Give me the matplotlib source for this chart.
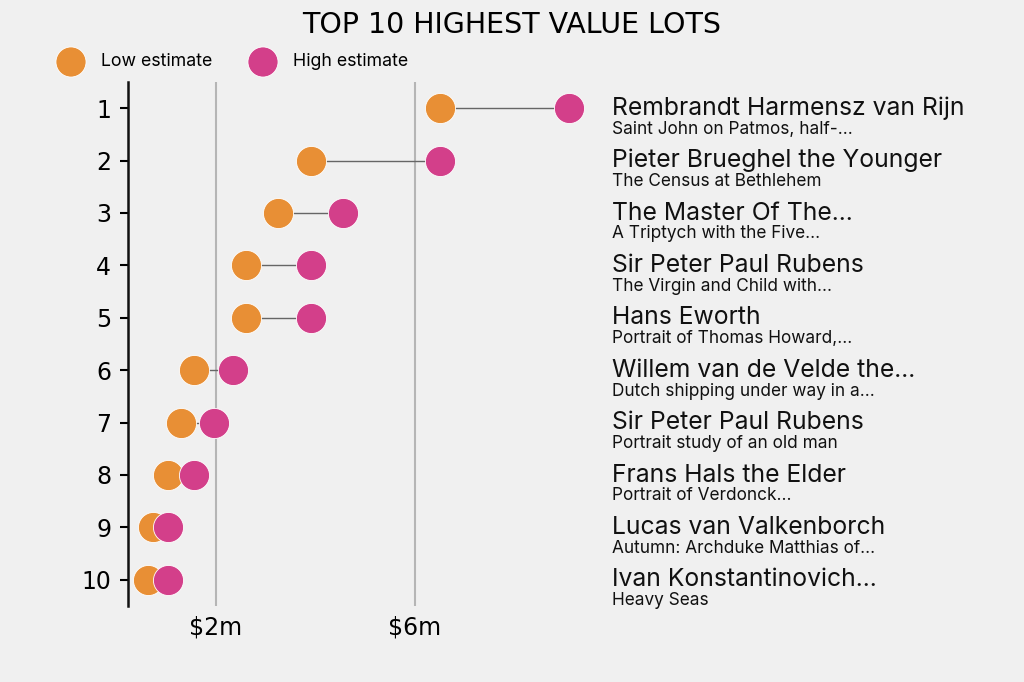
import matplotlib.pyplot as plt

ranks = [1, 2, 3, 4, 5, 6, 7, 8, 9, 10]
artists = ['Rembrandt Harmensz van Rijn', 'Pieter Brueghel the Younger',
           'The Master Of The...', 'Sir Peter Paul Rubens', 'Hans Eworth',
           'Willem van de Velde the...', 'Sir Peter Paul Rubens',
           'Frans Hals the Elder', 'Lucas van Valkenborch',
           'Ivan Konstantinovich...']
works = ['Saint John on Patmos, half-...', 'The Census at Bethlehem',
         'A Triptych with the Five...', 'The Virgin and Child with...',
         'Portrait of Thomas Howard,...', 'Dutch shipping under way in a...',
         'Portrait study of an old man', 'Portrait of Verdonck...',
         'Autumn: Archduke Matthias of...', 'Heavy Seas']
low_est = [6.5, 3.9, 3.25, 2.6, 2.6, 1.56, 1.3, 1.04, 0.73, 0.63]
high_est = [9.1, 6.5, 4.55, 3.9, 3.9, 2.34, 1.95, 1.56, 1.04, 1.04]
xticks = [2, 6]
xtick_labels = ['$2m', '$6m']

orange = '#E88F35'
pink = '#D33F8A'
bg = '#F0F0F0'
label_font = 'Inter'

fig = plt.figure(figsize=(10.24, 6.82), dpi=100, facecolor=bg)
ax = fig.add_axes([128 / 1024, 1 - 606 / 682, (600 - 128) / 1024, (606 - 82) / 682])
ax.set_facecolor(bg)

for r, lo, hi in zip(ranks, low_est, high_est):
    ax.plot([lo, hi], [r, r], color='#666666', lw=1, zorder=2)
ax.scatter(low_est, ranks, s=470, color=orange, edgecolor='white', lw=0.6, zorder=3)
ax.scatter(high_est, ranks, s=470, color=pink, edgecolor='white', lw=0.6, zorder=4)

ax.set_xlim(0.23, 9.72)
ax.set_ylim(10.5, 0.5)
ax.set_yticks(ranks)
ax.set_yticklabels([str(r) for r in ranks], fontsize=17)
ax.set_xticks(xticks)
ax.set_xticklabels(xtick_labels, fontsize=17)
ax.tick_params(axis='x', length=0, pad=7)
ax.tick_params(axis='y', length=6, width=1.5, pad=6)
ax.grid(axis='x', color='#B5B5B5', lw=1.5, zorder=1)
for s in ['top', 'right', 'bottom']:
    ax.spines[s].set_visible(False)
ax.spines['left'].set_linewidth(1.8)
ax.spines['left'].set_color('#111111')

# artist and title of each lot, right of the plot
trans = ax.get_yaxis_transform()
for r, a, w in zip(ranks, artists, works):
    ax.text(1.026, r, a, transform=trans, fontsize=17.8, family=label_font,
            va='center', ha='left', color='#111111', clip_on=False)
    ax.text(1.026, r + 0.4, w, transform=trans, fontsize=12.4, family=label_font,
            va='center', ha='left', color='#111111', clip_on=False)

fig.text(0.5, 1 - 25 / 682, 'TOP 10 HIGHEST VALUE LOTS', ha='center', va='center', fontsize=20.5)

# legend
lx = [71 / 1024, 263 / 1024]
ly = 1 - 62 / 682
leg_ax = fig.add_axes([0, 0, 1, 1], facecolor='none')
leg_ax.set_axis_off()
leg_ax.set_xlim(0, 1)
leg_ax.set_ylim(0, 1)
leg_ax.scatter(lx, [ly, ly], s=470, color=[orange, pink], edgecolor='white', lw=0.6)
leg_ax.text(101 / 1024, ly, 'Low estimate', fontsize=12.8, family=label_font, va='center')
leg_ax.text(293 / 1024, ly, 'High estimate', fontsize=12.8, family=label_font, va='center')

fig.savefig('out.png', dpi=100, facecolor=bg)
